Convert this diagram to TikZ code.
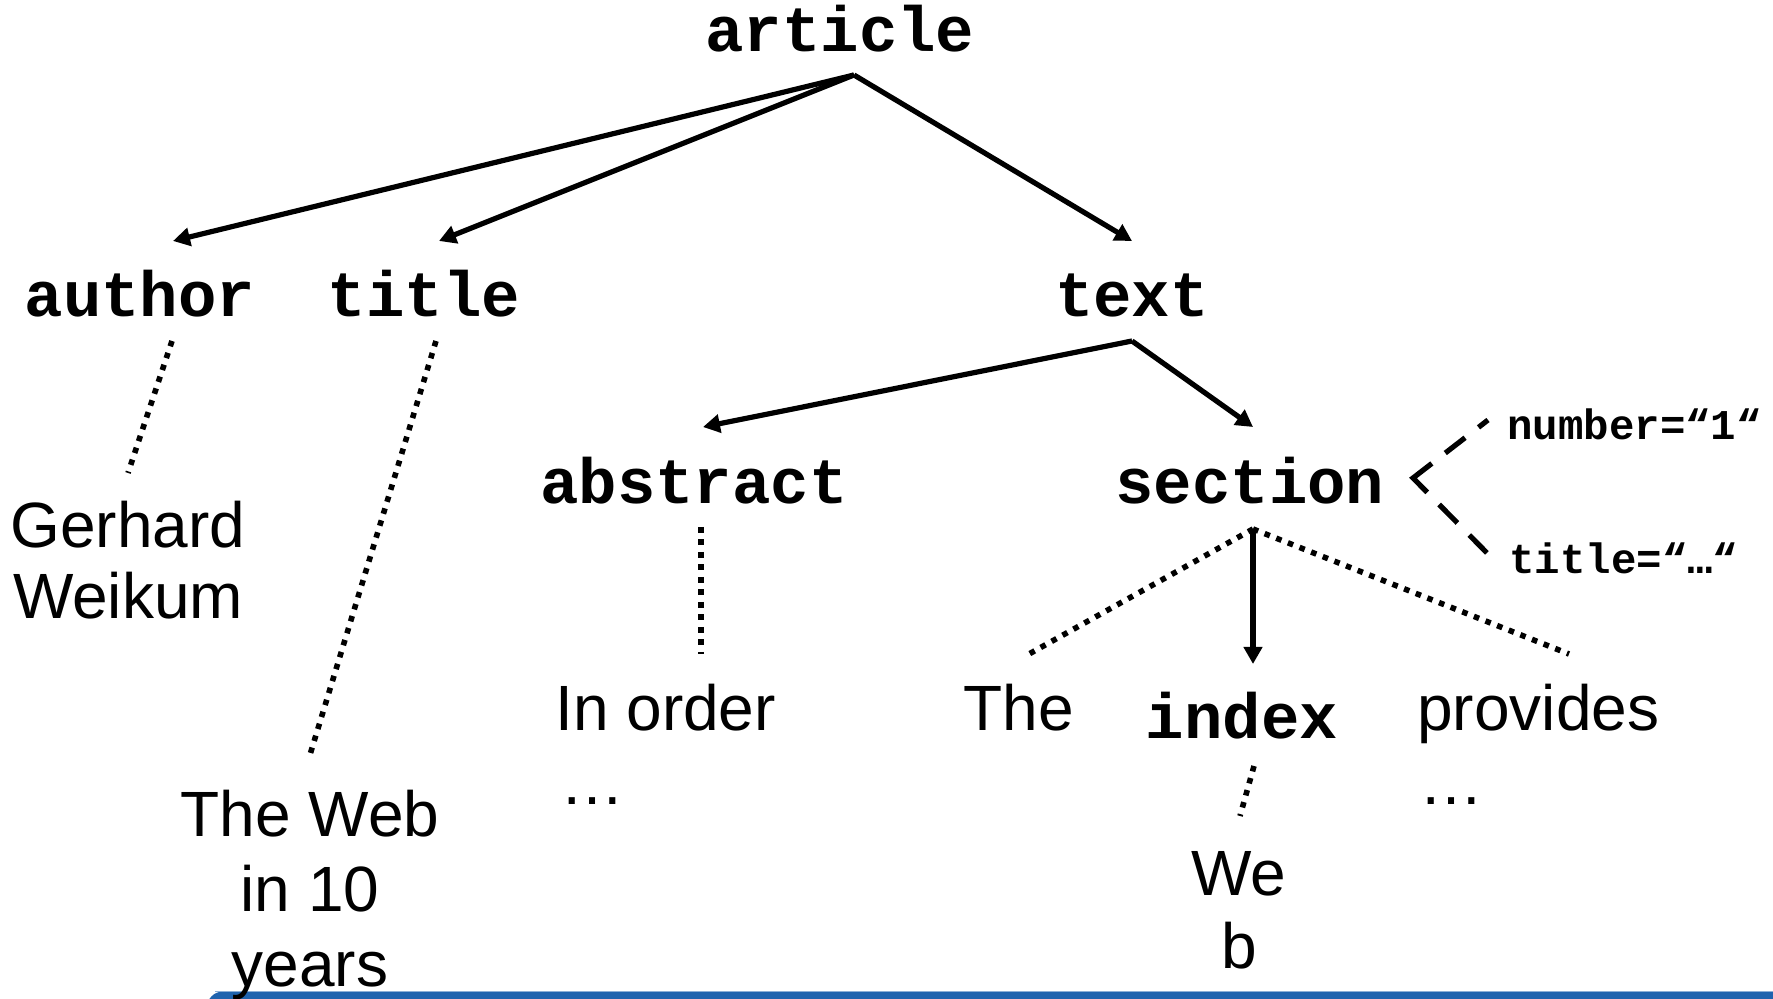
\documentclass[tikz,border=0pt]{standalone}
\usepackage{fontspec}
\setmainfont{Liberation Sans}
\setmonofont{Liberation Mono}
\usetikzlibrary{arrows.meta}
\definecolor{barblue}{RGB}{31,99,174}
\definecolor{barlight}{RGB}{140,175,215}
\begin{document}
\begin{tikzpicture}[x=0.5pt,y=-0.5pt,
  tag/.style={font=\fontsize{32}{36}\selectfont\ttfamily\bfseries, inner sep=0pt, anchor=base},
  attr/.style={font=\fontsize{21.2}{24}\selectfont\ttfamily\bfseries, inner sep=0pt, anchor=base west},
  word/.style={font=\fontsize{32}{37.5}\selectfont, inner sep=0pt, anchor=base},
  edgearrow/.style={line width=2.6pt, -{Triangle[width=9pt,length=8.5pt]}},
  dotline/.style={line width=2.8pt, dash pattern=on 2.8pt off 3.45pt},
  attrline/.style={line width=2.6pt, miter limit=10,
    dash pattern=on 6pt off 8.5pt on 12.5pt off 8.5pt on 22pt off 8.5pt on 13pt off 8.5pt on 12.5pt off 20pt}]
\useasboundingbox (0,0) rectangle (1773,999);
% bottom bar
\fill[barblue, rounded corners=8] (207,991.5) rectangle (1800,1030);
\draw[barlight, line width=0.6pt] (215,991.8) -- (1773,991.8);

% element nodes
\node[tag] (article)  at (840,52)  {article};
\node[tag] (author)   at (140,317) {author};
\node[tag] (title)    at (424,317) {title};
\node[tag] (text)     at (1132,317) {text};
\node[tag] (abstract) at (694,504) {abstract};
\node[tag] (section)  at (1250,504) {section};
\node[tag] (index)    at (1242,739) {index};
\node[attr] (number)  at (1507,439.5) {number=“1“};
\node[attr] (sectitle) at (1509,573.5) {title=“…“};

% text nodes
\node[word] (gerhard) at (128,548) {Gerhard};
\node[word] (weikum)  at (128,619) {Weikum};
\node[word] (theweb)  at (310,836) {The Web};
\node[word] (in10)    at (310,911) {in 10};
\node[word] (years)   at (310,986) {years};
\node[word, anchor=base west] (inorder) at (555,731) {In order};
\node[word, anchor=base west] (dots1)   at (560,805) {…};
\node[word] (the)     at (1019,731) {The};
\node[word, anchor=base west] (provides) at (1417,731) {provides};
\node[word, anchor=base west] (dots2)    at (1419,805) {…};
\node[word] (we)      at (1239,895) {We};
\node[word] (b)       at (1239,968) {b};

% connector end points
\coordinate (articleS) at (854,75);
\coordinate (authorN) at (173,241);
\coordinate (titleN) at (439,241);
\coordinate (textN) at (1132,241);
\coordinate (textS) at (1132,341);
\coordinate (abstractN) at (703,427);
\coordinate (sectionN) at (1253,427);
\coordinate (sectionS) at (1253,529);
\coordinate (indexN) at (1253,664);
\coordinate (theN) at (1029,654);
\coordinate (providesN) at (1569,654);
\coordinate (authorS) at (172,341);
\coordinate (gerhardN) at (128,473);
\coordinate (titleS) at (436,341);
\coordinate (thewebN) at (309,758);
\coordinate (abstractS) at (701,527);
\coordinate (inorderN) at (701,654);
\coordinate (indexS) at (1254,766);
\coordinate (weN) at (1240,816);
\coordinate (sectionE) at (1413,478);
\coordinate (numberW) at (1488,420);
\coordinate (sectitleW) at (1487,553);

% arrows
\draw[edgearrow] (articleS) -- (authorN);
\draw[edgearrow] (articleS) -- (titleN);
\draw[edgearrow] (articleS) -- (textN);
\draw[edgearrow] (textS) -- (abstractN);
\draw[edgearrow] (textS) -- (sectionN);
\draw[edgearrow] (sectionS) -- (indexN);

% dotted content links
\draw[dotline] (authorS) -- (gerhardN);
\draw[dotline] (titleS) -- (thewebN);
\draw[dotline] (abstractS) -- (inorderN);
\draw[dotline] (sectionS) -- (theN);
\draw[dotline] (sectionS) -- (providesN);
\draw[dotline] (indexS) -- (weN);

% dashed attribute links
\draw[attrline] (numberW) -- (sectionE) -- (sectitleW);
\end{tikzpicture}
\end{document}
